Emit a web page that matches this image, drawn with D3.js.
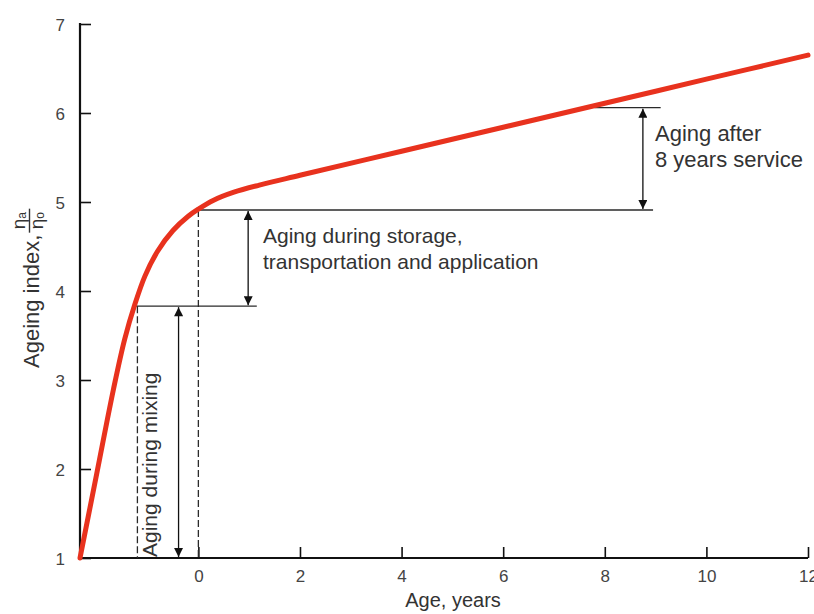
<!DOCTYPE html>
<html><head><meta charset="utf-8">
<script src="https://cdn.jsdelivr.net/npm/d3@7"></script>
<style>body{margin:0;background:#fff}svg{display:block}</style>
</head><body>
<script>
// ---- data ----
const ageYears    = [-2.33, -2.0, -1.67, -1.45, -1.25, -1.05, -0.8, -0.5, -0.2, 0, 0.3, 0.7, 1.2, 2, 4, 6, 8, 10, 12];
const ageingIndex = [1.0, 1.95, 2.9, 3.46, 3.85, 4.17, 4.45, 4.68, 4.84, 4.92, 5.02, 5.11, 5.19, 5.30, 5.57, 5.84, 6.11, 6.38, 6.65];
const xTicks = [0, 2, 4, 6, 8, 10, 12];
const yTicks = [1, 2, 3, 4, 5, 6, 7];
const mixAge = -1.2, mixLevel = 3.83;
const storeAge = 0, storeLevel = 4.91;
const serviceAge = 7.8, serviceLevel = 6.06;
const labelStorage = ["Aging during storage,", "transportation and application"];
const labelService = ["Aging after", "8 years service"];
const labelMixing = "Aging during mixing";

const W = 814, H = 614;
const svg = d3.select("body").append("svg").attr("width", W).attr("height", H);
const x = d3.scaleLinear().domain([-2.33, 12]).range([80, 808]);
const y = d3.scaleLinear().domain([1, 7]).range([558, 24]);
const font = "'Liberation Sans', Arial, sans-serif";
const ink = "#2a2a2a";
const txt = "#333";

const defs = svg.append("defs");
["s","e"].forEach(k => {
  defs.append("marker").attr("id","arr"+k).attr("viewBox","0 0 10 10")
    .attr("refX", k==="e"?10:0).attr("refY",5).attr("markerWidth",16).attr("markerHeight",9)
    .attr("markerUnits","userSpaceOnUse").attr("orient","auto")
    .append("path").attr("d", k==="e" ? "M0,0 L10,5 L0,10 Z" : "M10,0 L0,5 L10,10 Z").attr("fill","#111");
});

// axes
const yAxis = d3.axisLeft(y).tickValues(yTicks).tickSize(-11).tickPadding(15).tickFormat(d3.format("d"));
const gy = svg.append("g").attr("transform","translate(80,0)").call(yAxis);
gy.select(".domain").attr("stroke","#111").attr("stroke-width",2.2).attr("d","M0,"+y(1)+"V"+(y(7)-1));
gy.selectAll(".tick line").attr("stroke","#111").attr("stroke-width",1.6);
gy.selectAll(".tick text").attr("font-family",font).attr("font-size",17).attr("fill","#444").attr("dy","0.38em");

const xAxis = d3.axisBottom(x).tickValues(xTicks).tickSize(-11).tickPadding(12).tickFormat(d3.format("d"));
const gx = svg.append("g").attr("transform","translate(0,"+y(1)+")").call(xAxis);
gx.select(".domain").attr("stroke","#111").attr("stroke-width",2.2).attr("d","M79,0H808");
gx.selectAll(".tick line").attr("stroke","#111").attr("stroke-width",1.6);
gx.selectAll(".tick text").attr("font-family",font).attr("font-size",17).attr("fill","#444");

// axis titles
svg.append("text").attr("x",453).attr("y",607).attr("text-anchor","middle")
  .attr("font-family",font).attr("font-size",20).attr("fill",txt).text("Age, years");

const yl = svg.append("g").attr("transform","translate(39,368) rotate(-90)");
const ylt = yl.append("text").attr("x",0).attr("y",0).attr("font-family",font).attr("font-size",22).attr("fill",txt).text("Ageing index,");
const tl = ylt.node().getComputedTextLength();
const fx = tl + 14;
const fr = yl.append("g").attr("font-family",font).attr("fill",txt);
const num = fr.append("text").attr("x",fx).attr("y",-14).attr("text-anchor","middle").attr("font-size",19);
num.append("tspan").text("η"); num.append("tspan").attr("font-size",12).attr("dy",1).text("a");
fr.append("line").attr("x1",fx-12).attr("x2",fx+12).attr("y1",-9.5).attr("y2",-9.5).attr("stroke",txt).attr("stroke-width",1.4);
const den = fr.append("text").attr("x",fx).attr("y",3.5).attr("text-anchor","middle").attr("font-size",19);
den.append("tspan").text("η"); den.append("tspan").attr("font-size",12).attr("dy",1).text("o");

// reference lines
const ann = svg.append("g").attr("stroke",ink).attr("stroke-width",1.3).attr("fill","none");
ann.append("line").attr("x1",x(mixAge)-3).attr("x2",x(1.15)).attr("y1",y(mixLevel)).attr("y2",y(mixLevel));
ann.append("line").attr("x1",x(storeAge)-3).attr("x2",x(8.95)).attr("y1",y(storeLevel)).attr("y2",y(storeLevel));
ann.append("line").attr("x1",x(serviceAge)).attr("x2",x(9.1)).attr("y1",y(serviceLevel)).attr("y2",y(serviceLevel));
ann.append("line").attr("x1",x(mixAge)).attr("x2",x(mixAge)).attr("y1",y(mixLevel)).attr("y2",y(1)).attr("stroke-dasharray","7,3");
ann.append("line").attr("x1",x(storeAge)).attr("x2",x(storeAge)).attr("y1",y(storeLevel)).attr("y2",y(1)).attr("stroke-dasharray","7,3");

// double arrows
function dArrow(xp, v1, v2){
  svg.append("line").attr("x1",xp).attr("x2",xp).attr("y1",y(v1)+1).attr("y2",y(v2)-1)
    .attr("stroke","#111").attr("stroke-width",1.3)
    .attr("marker-start","url(#arrs)").attr("marker-end","url(#arre)");
}
dArrow(x(-0.39), mixLevel, 1);
dArrow(x(0.98), storeLevel, mixLevel);
dArrow(x(8.75), serviceLevel, storeLevel);

// curve
const pts = ageYears.map((a,i)=>[a, ageingIndex[i]]);
svg.append("path").datum(pts)
  .attr("d", d3.line().x(d=>x(d[0])).y(d=>y(d[1])).curve(d3.curveCatmullRom.alpha(0.5)))
  .attr("fill","none").attr("stroke","#e8321e").attr("stroke-width",5).attr("stroke-linecap","round");

// annotation text
const t1 = svg.append("text").attr("font-family",font).attr("font-size",21).attr("fill",txt);
labelStorage.forEach((s,i)=>t1.append("tspan").attr("x",263).attr("y",243+i*26).text(s));
const t2 = svg.append("text").attr("font-family",font).attr("font-size",22).attr("fill",txt);
labelService.forEach((s,i)=>t2.append("tspan").attr("x",655).attr("y",141+i*26).text(s));
svg.append("text").attr("transform","translate(157,557) rotate(-90)")
  .attr("font-family",font).attr("font-size",21).attr("fill",txt).text(labelMixing);
</script>
</body></html>
